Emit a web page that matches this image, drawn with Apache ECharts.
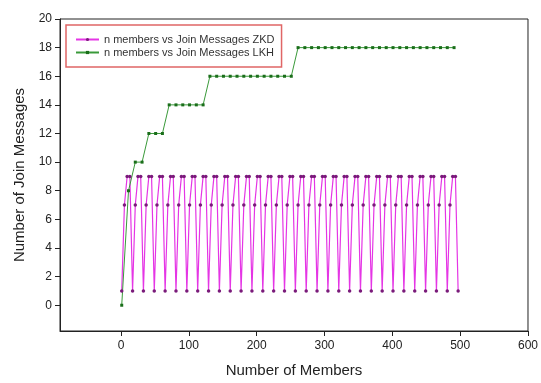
<!DOCTYPE html>
<html>
<head>
<meta charset="utf-8">
<script src="https://cdn.jsdelivr.net/npm/echarts@6/dist/echarts.min.js"></script>
<style>
  html, body { margin: 0; padding: 0; background: #fff; }
  #chart { width: 541px; height: 383px; }
</style>
</head>
<body>
<div id="chart"></div>
<script>
// ZKD: members sampled every 4
const zkdMembers = [
  1, 5, 9, 13, 17, 21, 25, 29, 33, 37, 41, 45, 49, 53, 57, 61, 65, 69, 73, 77,
  81, 85, 89, 93, 97, 101, 105, 109, 113, 117, 121, 125, 129, 133, 137, 141, 145, 149, 153, 157,
  161, 165, 169, 173, 177, 181, 185, 189, 193, 197, 201, 205, 209, 213, 217, 221, 225, 229, 233, 237,
  241, 245, 249, 253, 257, 261, 265, 269, 273, 277, 281, 285, 289, 293, 297, 301, 305, 309, 313, 317,
  321, 325, 329, 333, 337, 341, 345, 349, 353, 357, 361, 365, 369, 373, 377, 381, 385, 389, 393, 397,
  401, 405, 409, 413, 417, 421, 425, 429, 433, 437, 441, 445, 449, 453, 457, 461, 465, 469, 473, 477,
  481, 485, 489, 493, 497
];
const zkdMessages = [
  1, 7, 9, 9, 1, 7, 9, 9, 1, 7, 9, 9, 1, 7, 9, 9, 1, 7, 9, 9, 1, 7, 9, 9, 1, 7, 9, 9, 1, 7, 9, 9,
  1, 7, 9, 9, 1, 7, 9, 9, 1, 7, 9, 9, 1, 7, 9, 9, 1, 7, 9, 9, 1, 7, 9, 9, 1, 7, 9, 9, 1, 7, 9, 9,
  1, 7, 9, 9, 1, 7, 9, 9, 1, 7, 9, 9, 1, 7, 9, 9, 1, 7, 9, 9, 1, 7, 9, 9, 1, 7, 9, 9, 1, 7, 9, 9,
  1, 7, 9, 9, 1, 7, 9, 9, 1, 7, 9, 9, 1, 7, 9, 9, 1, 7, 9, 9, 1, 7, 9, 9, 1, 7, 9, 9,
  1
];

// LKH: members sampled every 10
const lkhMembers = [
  1, 11, 21, 31, 41, 51, 61, 71, 81, 91, 101, 111, 121, 131, 141, 151, 161, 171, 181, 191,
  201, 211, 221, 231, 241, 251, 261, 271, 281, 291, 301, 311, 321, 331, 341, 351, 361, 371, 381, 391,
  401, 411, 421, 431, 441, 451, 461, 471, 481, 491
];
const lkhMessages = [
  0, 8, 10, 10, 12, 12, 12, 14, 14, 14, 14, 14, 14, 16, 16, 16, 16, 16, 16, 16,
  16, 16, 16, 16, 16, 16, 18, 18, 18, 18, 18, 18, 18, 18, 18, 18, 18, 18, 18, 18,
  18, 18, 18, 18, 18, 18, 18, 18, 18, 18
];

const xTicks = [0, 100, 200, 300, 400, 500, 600];
const yTicks = [0, 2, 4, 6, 8, 10, 12, 14, 16, 18, 20];

const font = 'Arial, "Liberation Sans", sans-serif';
const chart = echarts.init(document.getElementById('chart'));

chart.setOption({
  backgroundColor: '#fff',
  animation: false,
  textStyle: { fontFamily: font },
  grid: {
    left: 60, right: 11, top: 19, bottom: 51,
    show: true, borderColor: '#222', borderWidth: 1
  },
  legend: {
    orient: 'vertical',
    left: 66, top: 25,
    borderColor: '#e06666', borderWidth: 1.5,
    padding: [9, 7, 9, 9],
    itemWidth: 23, itemHeight: 4, itemGap: 2,
    textStyle: { fontSize: 11, color: '#333', fontFamily: font }
  },
  xAxis: {
    type: 'value',
    min: -90, max: 600,
    name: 'Number of Members',
    nameLocation: 'middle', nameGap: 32,
    nameTextStyle: { fontSize: 15, color: '#222' },
    axisLine: { show: true, onZero: false, lineStyle: { color: '#222' } },
    axisTick: { show: true, length: 5, customValues: xTicks, lineStyle: { color: '#222' } },
    axisLabel: { customValues: xTicks, fontSize: 12, color: '#222', margin: 9 },
    splitLine: { show: false }
  },
  yAxis: {
    type: 'value',
    min: -1.8, max: 20,
    name: 'Number of Join Messages',
    nameLocation: 'middle', nameGap: 32,
    nameTextStyle: { fontSize: 15, color: '#222' },
    axisLine: { show: true, onZero: false, lineStyle: { color: '#222' } },
    axisTick: { show: true, length: 5, customValues: yTicks, lineStyle: { color: '#222' } },
    axisLabel: { customValues: yTicks, fontSize: 12, color: '#222', margin: 8 },
    splitLine: { show: false }
  },
  series: [
    {
      name: 'n members vs Join Messages ZKD',
      type: 'line',
      data: zkdMembers.map((m, i) => [m, zkdMessages[i]]),
      symbol: 'circle', symbolSize: 3.5,
      lineStyle: { color: '#e535e5', width: 1.2 },
      itemStyle: { color: '#7a1a7a' }
    },
    {
      name: 'n members vs Join Messages LKH',
      type: 'line',
      data: lkhMembers.map((m, i) => [m, lkhMessages[i]]),
      symbol: 'rect', symbolSize: 3,
      lineStyle: { color: '#3a9a3a', width: 1 },
      itemStyle: { color: '#1a6e1a' }
    }
  ]
});
</script>
</body>
</html>
